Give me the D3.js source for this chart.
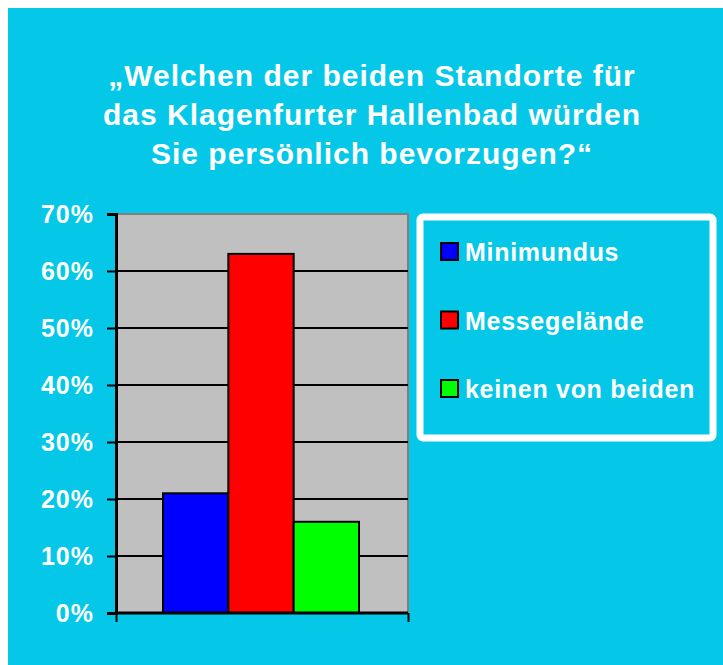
<!DOCTYPE html>
<html>
<head>
<meta charset="utf-8">
<script src="https://cdn.jsdelivr.net/npm/d3@7"></script>
<style>
  body { margin: 0; background: #fff; }
  svg text { font-family: "Liberation Sans", Arial, sans-serif; font-weight: bold; fill: #fff; }
</style>
</head>
<body>
<script>
// Width and height
var w = 723;
var h = 665;

// data
var titleLines = ["\u201EWelchen der beiden Standorte f\u00FCr", "das Klagenfurter Hallenbad w\u00FCrden", "Sie pers\u00F6nlich bevorzugen?\u201C"];
var categories = ["Minimundus", "Messegel\u00E4nde", "keinen von beiden"];
var values = [0.21, 0.63, 0.16];
var colors = ["#0000ff", "#ff0000", "#00ff00"];
var yTicks = [0, 0.1, 0.2, 0.3, 0.4, 0.5, 0.6, 0.7];

var plot = { left: 116, right: 408, top: 214, bottom: 613 };

var svg = d3.select("body")
            .append("svg")
            .attr("width", w)
            .attr("height", h);

// cyan background
svg.append("rect")
   .attr("x", 8).attr("y", 8)
   .attr("width", w - 8).attr("height", h - 8)
   .attr("fill", "#05c8e8");

// title
svg.append("text")
   .attr("text-anchor", "middle")
   .attr("font-size", 30)
   .attr("letter-spacing", 1)
   .selectAll("tspan")
   .data(titleLines)
   .enter()
   .append("tspan")
   .attr("x", 372)
   .attr("y", function(d, i) { return 86 + i * 39; })
   .text(function(d) { return d; });

var yScale = d3.scaleLinear()
               .domain([0, 0.7])
               .range([plot.bottom, plot.top]);

var xScale = d3.scaleBand()
               .domain(categories)
               .range([163, 359]);

// plot area
svg.append("rect")
   .attr("x", plot.left).attr("y", plot.top)
   .attr("width", plot.right - plot.left)
   .attr("height", plot.bottom - plot.top)
   .attr("fill", "#c0c0c0")
   .attr("stroke", "#808080")
   .attr("stroke-width", 2);

// gridlines
svg.selectAll(".grid")
   .data(yTicks.slice(1, -1))
   .enter()
   .append("line")
   .attr("x1", plot.left).attr("x2", plot.right)
   .attr("y1", function(d) { return yScale(d); })
   .attr("y2", function(d) { return yScale(d); })
   .attr("stroke", "#000")
   .attr("stroke-width", 2);

// bars
svg.selectAll(".bar")
   .data(values)
   .enter()
   .append("rect")
   .attr("x", function(d, i) { return xScale(categories[i]); })
   .attr("y", function(d) { return yScale(d); })
   .attr("width", xScale.bandwidth())
   .attr("height", function(d) { return yScale(0) - yScale(d); })
   .attr("fill", function(d, i) { return colors[i]; })
   .attr("stroke", "#000")
   .attr("stroke-width", 2);

// y axis
var yAxis = d3.axisLeft(yScale)
              .tickValues(yTicks)
              .tickSize(9)
              .tickPadding(13)
              .tickFormat(d3.format(".0%"));

var gy = svg.append("g")
   .attr("transform", "translate(" + plot.left + ",0)")
   .call(yAxis);
gy.select(".domain").attr("stroke", "#000").attr("stroke-width", 3);
gy.selectAll(".tick line").attr("stroke", "#000").attr("stroke-width", 2);
gy.selectAll(".tick text")
  .attr("fill", "#fff")
  .attr("font-size", 25)
  .attr("letter-spacing", 1)
  .attr("font-family", "Liberation Sans, Arial, sans-serif")
  .attr("font-weight", "bold");

// x axis (bottom line with end ticks)
var xAxis = d3.axisBottom(d3.scaleLinear().domain([0, 1]).range([plot.left, plot.right]))
              .tickValues([0, 1])
              .tickSize(9)
              .tickFormat("");
var gx = svg.append("g")
   .attr("transform", "translate(0," + plot.bottom + ")")
   .call(xAxis);
gx.select(".domain").attr("stroke", "#000").attr("stroke-width", 3)
  .attr("d", "M" + plot.left + ",0H" + plot.right);
gx.selectAll(".tick line").attr("stroke", "#000").attr("stroke-width", 2);

// legend
svg.append("rect")
   .attr("x", 420).attr("y", 217)
   .attr("width", 293).attr("height", 221)
   .attr("rx", 3)
   .attr("fill", "none")
   .attr("stroke", "#fff")
   .attr("stroke-width", 7);

var legend = svg.selectAll(".legend")
   .data(categories)
   .enter()
   .append("g")
   .attr("transform", function(d, i) { return "translate(441," + (252 + i * 68.5) + ")"; });

legend.append("rect")
   .attr("x", 0).attr("y", -9)
   .attr("width", 17).attr("height", 17)
   .attr("fill", function(d, i) { return colors[i]; })
   .attr("stroke", "#000")
   .attr("stroke-width", 2);

legend.append("text")
   .attr("x", 24)
   .attr("y", 9)
   .attr("font-size", 25)
   .attr("letter-spacing", 0.7)
   .text(function(d) { return d; });
</script>
</body>
</html>
